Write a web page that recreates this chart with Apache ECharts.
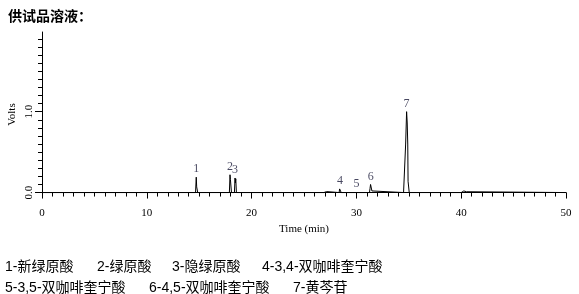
<!DOCTYPE html>
<html>
<head>
<meta charset="utf-8">
<script src="https://cdn.jsdelivr.net/npm/echarts@6/dist/echarts.min.js"></script>
<style>html,body{margin:0;padding:0;background:#fff}#c{width:579px;height:294px}</style>
</head>
<body>
<div id="c"></div>
<script>
// Chromatogram trace (time in min, signal in volts)
var times = [0, 14.65, 14.72, 14.76, 14.8, 14.86,
  17.88, 17.94, 17.98, 18.02, 18.08,
  18.36, 18.42, 18.45, 18.49, 18.55,
  26.9, 27.0, 27.15, 27.25,
  28.35, 28.4, 28.48, 28.55,
  29.92, 29.97, 30.05, 30.12,
  31.25, 31.3, 31.35, 31.42, 31.48, 31.55,
  34.5, 34.58, 34.64, 34.7, 34.79, 34.85, 34.9, 34.93, 35.0, 35.04,
  40.0, 40.1, 40.25, 40.35, 40.5, 40.6, 50];
var volts = [0, 0, 0.19, 0.07, 0.06, 0,
  0, 0.22, 0.16, 0.15, 0,
  0, 0.18, 0.12, 0.17, 0,
  0, 0.012, 0.012, 0,
  0, 0.045, 0.04, 0,
  0, 0.012, 0.012, 0,
  0, 0.05, 0.10, 0.10, 0.02, 0,
  0, 0.012, 0, 0.6, 1.0, 0.86, 0.6, 0.14, 0.13, 0,
  0, 0.022, 0.02, 0.005, 0.01, 0, 0];
// Peak labels
var peakTimes = [14.72, 17.94, 18.42, 28.43, 30.0, 31.38, 34.79];
var peakHeights = [0.19, 0.22, 0.18, 0.045, 0.012, 0.10, 1.0];
var peakNames = ['1', '2', '3', '4', '5', '6', '7'];
// Axis ticks
var yMajor = [0, 1];
var yMinor = [0, 0.1, 0.2, 0.3, 0.4, 0.5, 0.6, 0.7, 0.8, 0.9, 1.0, 1.1, 1.2, 1.3, 1.4, 1.5, 1.6, 1.7, 1.8, 1.9];
// Texts
var chartTitle = '供试品溶液：';
var legendRow1 = ['1-新绿原酸', '2-绿原酸', '3-隐绿原酸', '4-3,4-双咖啡奎宁酸'];
var legendRow2 = ['5-3,5-双咖啡奎宁酸', '6-4,5-双咖啡奎宁酸', '7-黄芩苷'];
var legendX1 = [5, 97, 172, 262];
var legendX2 = [5, 149, 293];

var trace = times.map(function (t, i) { return [t, volts[i]]; });
var peaks = peakTimes.map(function (t, i) { return { value: [t, peakHeights[i]], name: peakNames[i] }; });

var serif = '"Liberation Serif","DejaVu Serif",serif';
var cjk = '"Liberation Sans","Noto Sans CJK SC",sans-serif';

var graphics = [];
legendRow1.forEach(function (s, i) {
  graphics.push({ type: 'text', left: legendX1[i], top: 260, style: { text: s, font: '14px ' + cjk, fill: '#000' } });
});
legendRow2.forEach(function (s, i) {
  graphics.push({ type: 'text', left: legendX2[i], top: 281, style: { text: s, font: '14px ' + cjk, fill: '#000' } });
});

var chart = echarts.init(document.getElementById('c'), null, { renderer: 'canvas' });
chart.setOption({
  animation: false,
  backgroundColor: '#fff',
  title: {
    text: chartTitle, left: 3, top: 4,
    textStyle: { fontSize: 14, fontWeight: 'bold', color: '#000', fontFamily: '"Noto Sans CJK SC",sans-serif' }
  },
  graphic: graphics,
  grid: { left: 42, right: 13, top: 32, bottom: 97, containLabel: false, outerBoundsMode: 'none' },
  xAxis: {
    type: 'value', min: 0, max: 50, interval: 10,
    name: 'Time (min)', nameLocation: 'middle', nameGap: 24,
    nameTextStyle: { fontFamily: serif, fontSize: 11, color: '#000' },
    axisLine: { show: true, lineStyle: { color: '#000', width: 1 } },
    axisTick: { show: true, length: 6, lineStyle: { color: '#000' } },
    minorTick: { show: true, splitNumber: 10, length: 4, lineStyle: { color: '#000' } },
    axisLabel: { margin: 11, fontFamily: serif, fontSize: 11, color: '#000' },
    splitLine: { show: false }
  },
  yAxis: [{
    type: 'value', min: -0.055, max: 1.985,
    axisLine: { show: true, lineStyle: { color: '#000', width: 1 } },
    axisTick: { show: true, length: 4, customValues: yMinor, lineStyle: { color: '#000' } },
    axisLabel: { show: false },
    splitLine: { show: false }
  }, {
    type: 'value', min: -0.055, max: 1.985, position: 'left',
    name: 'Volts', nameLocation: 'middle', nameGap: 24, nameMoveOverlap: false,
    nameTextStyle: { fontFamily: serif, fontSize: 11, color: '#000' },
    axisLine: { show: false },
    axisTick: { show: true, length: 7, customValues: yMajor, lineStyle: { color: '#000' } },
    axisLabel: {
      customValues: yMajor, rotate: 90, margin: 7, fontFamily: serif, fontSize: 11, color: '#000',
      formatter: function (v) { return v.toFixed(1); }
    },
    splitLine: { show: false }
  }],
  series: [{
    type: 'line', data: trace, yAxisIndex: 0, symbol: 'none', silent: true,
    lineStyle: { color: '#000', width: 1 }
  }, {
    type: 'scatter', data: peaks, yAxisIndex: 0, symbolSize: 0, silent: true,
    label: {
      show: true, position: 'top', distance: 2, formatter: '{b}',
      fontFamily: serif, fontSize: 12, color: '#1a1a3a'
    }
  }]
});
</script>
</body>
</html>
